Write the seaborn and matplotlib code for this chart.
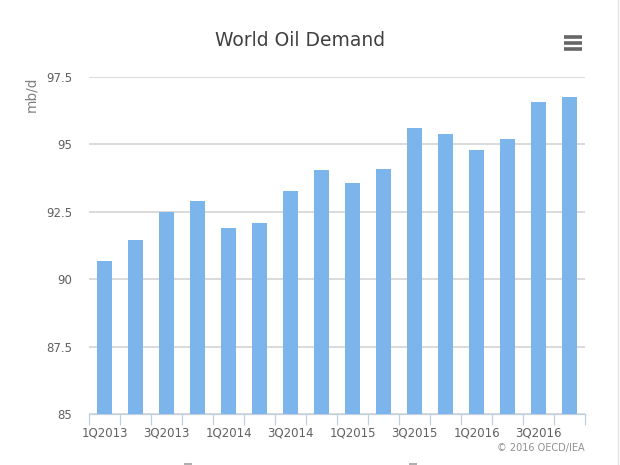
import matplotlib
matplotlib.use('Agg')
import matplotlib.pyplot as plt
from matplotlib.lines import Line2D
from matplotlib.ticker import FixedLocator
import seaborn as sns
import pandas as pd

quarters = ['1Q2013', '2Q2013', '3Q2013', '4Q2013',
            '1Q2014', '2Q2014', '3Q2014', '4Q2014',
            '1Q2015', '2Q2015', '3Q2015', '4Q2015',
            '1Q2016', '2Q2016', '3Q2016', '4Q2016']
demand = [90.68, 91.45, 92.5, 92.9,
          91.9, 92.1, 93.27, 94.05,
          93.55, 94.1, 95.6, 95.4,
          94.78, 95.2, 96.58, 96.75]
y_ticks = [85, 87.5, 90, 92.5, 95, 97.5]
y_labels = ['85', '87.5', '90', '92.5', '95', '97.5']

W, H = 620, 465

sns.set_theme(style='white')
plt.rcParams['font.family'] = ['DejaVu Sans']

df = pd.DataFrame({'quarter': quarters, 'demand': demand})

fig = plt.figure(figsize=(W / 100, H / 100), dpi=100, facecolor='white')
ax = fig.add_axes([89 / W, 1 - 414 / H, (585 - 89) / W, (414 - 77) / H])

sns.barplot(data=df, x='quarter', y='demand', color='#7cb5ec', saturation=1,
            width=0.47, linewidth=0, ax=ax, zorder=3)

ax.set_ylim(85, 97.5)
ax.set_xlim(-0.5, len(quarters) - 0.5)
ax.set_yticks(y_ticks, y_labels)
ax.grid(axis='y', color='#d4d4d4', linewidth=1.2, zorder=0)
ax.set_axisbelow(True)

# labels on every second bar, ticks on the category edges
ax.set_xticks(range(0, len(quarters), 2), quarters[::2])
ax.xaxis.set_minor_locator(FixedLocator([i - 0.5 for i in range(len(quarters) + 1)]))
ax.tick_params(axis='x', which='major', length=0, pad=9, labelsize=8.5, labelcolor='#606060')
ax.tick_params(axis='x', which='minor', length=8, width=0.9, color='#c0d0e0', bottom=True)
ax.tick_params(axis='y', length=0, pad=12, labelsize=8.5, labelcolor='#606060')

for side in ['top', 'left', 'right']:
    ax.spines[side].set_visible(False)
ax.spines['bottom'].set_color('#c0d0e0')
ax.spines['bottom'].set_linewidth(0.9)

ax.set_xlabel('')
ax.set_ylabel('')
fig.text(31 / W, 1 - 94 / H, 'mb/d', rotation=90, ha='center', va='center',
         fontsize=9.8, color='#808080')
fig.text(300 / W, 1 - 40 / H, 'World Oil Demand', ha='center', va='center',
         fontsize=13.5, color='#404040')
fig.text(585 / W, 1 - 448 / H, '© 2016 OECD/IEA', ha='right', va='center',
         fontsize=7, color='#909090')

# menu icon, page edge and the two tabs cut off at the bottom
for yy in [37, 43, 49]:
    fig.add_artist(Line2D([564 / W, 582 / W], [1 - yy / H] * 2, color='#666666',
                          linewidth=2.6, solid_capstyle='butt'))
fig.add_artist(Line2D([618 / W, 618 / W], [0, 1], color='#e4e4e4', linewidth=1))
for xx in [188, 413]:
    fig.add_artist(Line2D([(xx - 4) / W, (xx + 4) / W], [1 - 464 / H] * 2, color='#b0b0b0',
                          linewidth=1.5, solid_capstyle='butt'))

fig.savefig('out.png', dpi=100)
